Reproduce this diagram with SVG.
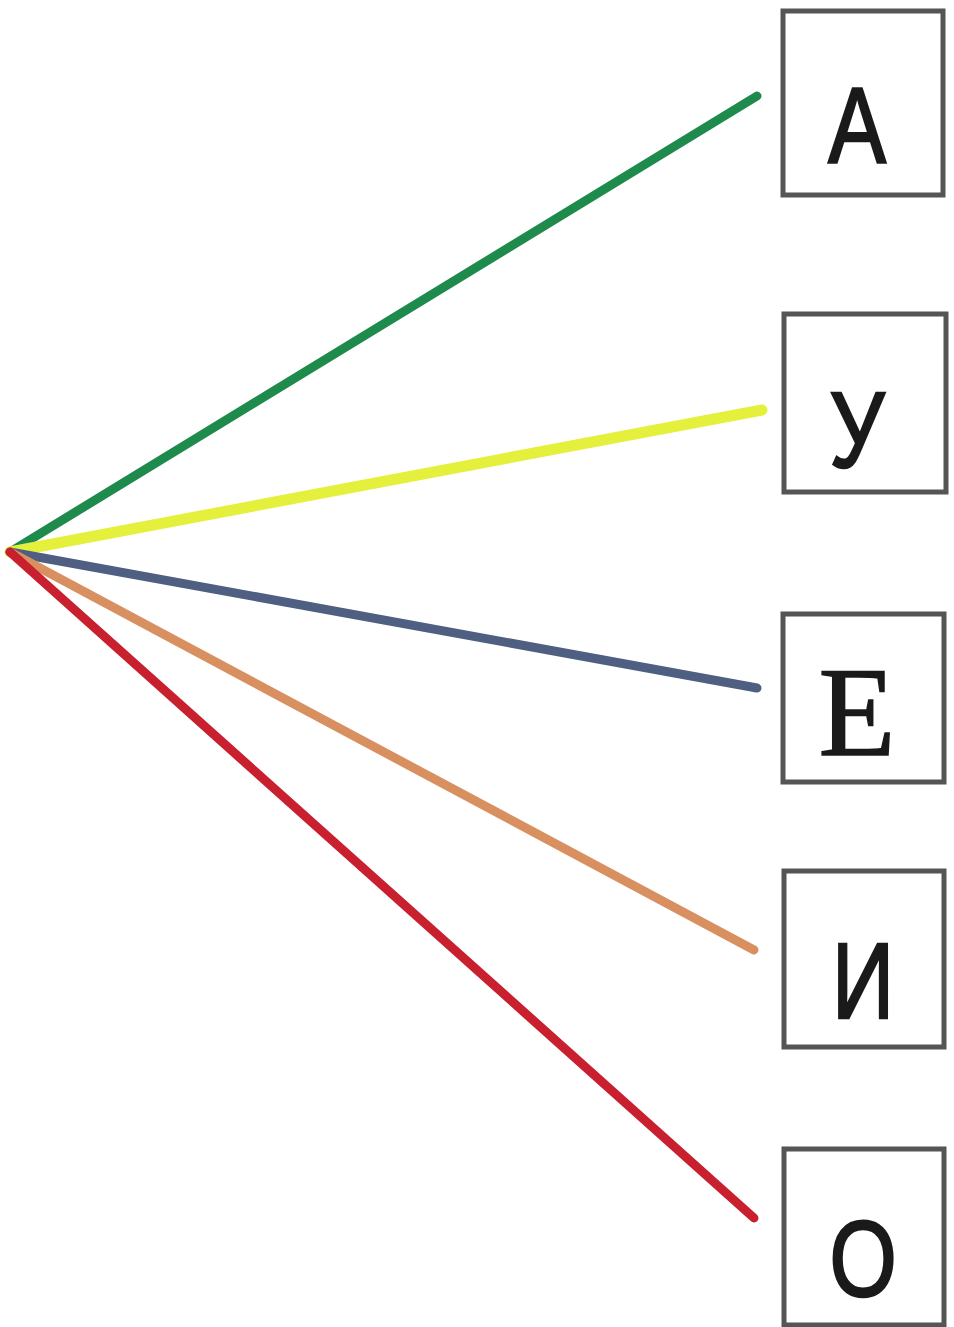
<svg xmlns="http://www.w3.org/2000/svg" width="954" height="1327" viewBox="0 0 954 1327">
<style>
.box{fill:#ffffff;stroke:#555555;stroke-width:5}
.lt{font-family:"Liberation Sans",Arial,sans-serif;font-size:108px;fill:#1a1a1a;stroke:#1a1a1a;stroke-width:2.5;text-anchor:middle}
.ls{font-family:"Liberation Serif","Times New Roman",serif;font-size:126px;fill:#1a1a1a;stroke:#1a1a1a;stroke-width:1.5;text-anchor:middle}
.ln{fill:none;stroke-width:9;stroke-linecap:round}
.thick{stroke-width:11}
</style>
<rect width="954" height="1327" fill="#ffffff"/>
<g id="connectors">
<line class="ln" x1="10" y1="552" x2="757" y2="96" stroke="#1e8a4c"/>
<line class="ln thick" x1="10" y1="552" x2="762" y2="410" stroke="#e4f03c"/>
<line class="ln" x1="10" y1="552" x2="757" y2="688" stroke="#4e5f82"/>
<line class="ln" x1="10" y1="552" x2="754" y2="950" stroke="#d99060"/>
<line class="ln" x1="10" y1="552" x2="754" y2="1218" stroke="#c8202e"/>
</g>
<g id="node-a">
<rect class="box" x="783" y="11" width="160" height="184"/>
<text class="lt" x="857" y="163" transform="translate(857 0) scale(0.8 1) translate(-857 0)">А</text>
</g>
<g id="node-u">
<rect class="box" x="784" y="314" width="162" height="178"/>
<text class="lt" x="857" y="467" transform="translate(857 0) scale(0.8 1) translate(-857 0)">У</text>
</g>
<g id="node-e">
<rect class="box" x="783" y="614" width="161" height="168"/>
<text class="ls" x="857" y="755">Е</text>
</g>
<g id="node-i">
<rect class="box" x="784" y="871" width="160" height="176"/>
<text class="lt" x="863" y="1018" transform="translate(863 0) scale(0.8 1) translate(-863 0)">И</text>
</g>
<g id="node-o">
<rect class="box" x="784" y="1149" width="160" height="176"/>
<text class="lt" x="863" y="1296" transform="translate(863 0) scale(0.8 1) translate(-863 0)">О</text>
</g>
</svg>
